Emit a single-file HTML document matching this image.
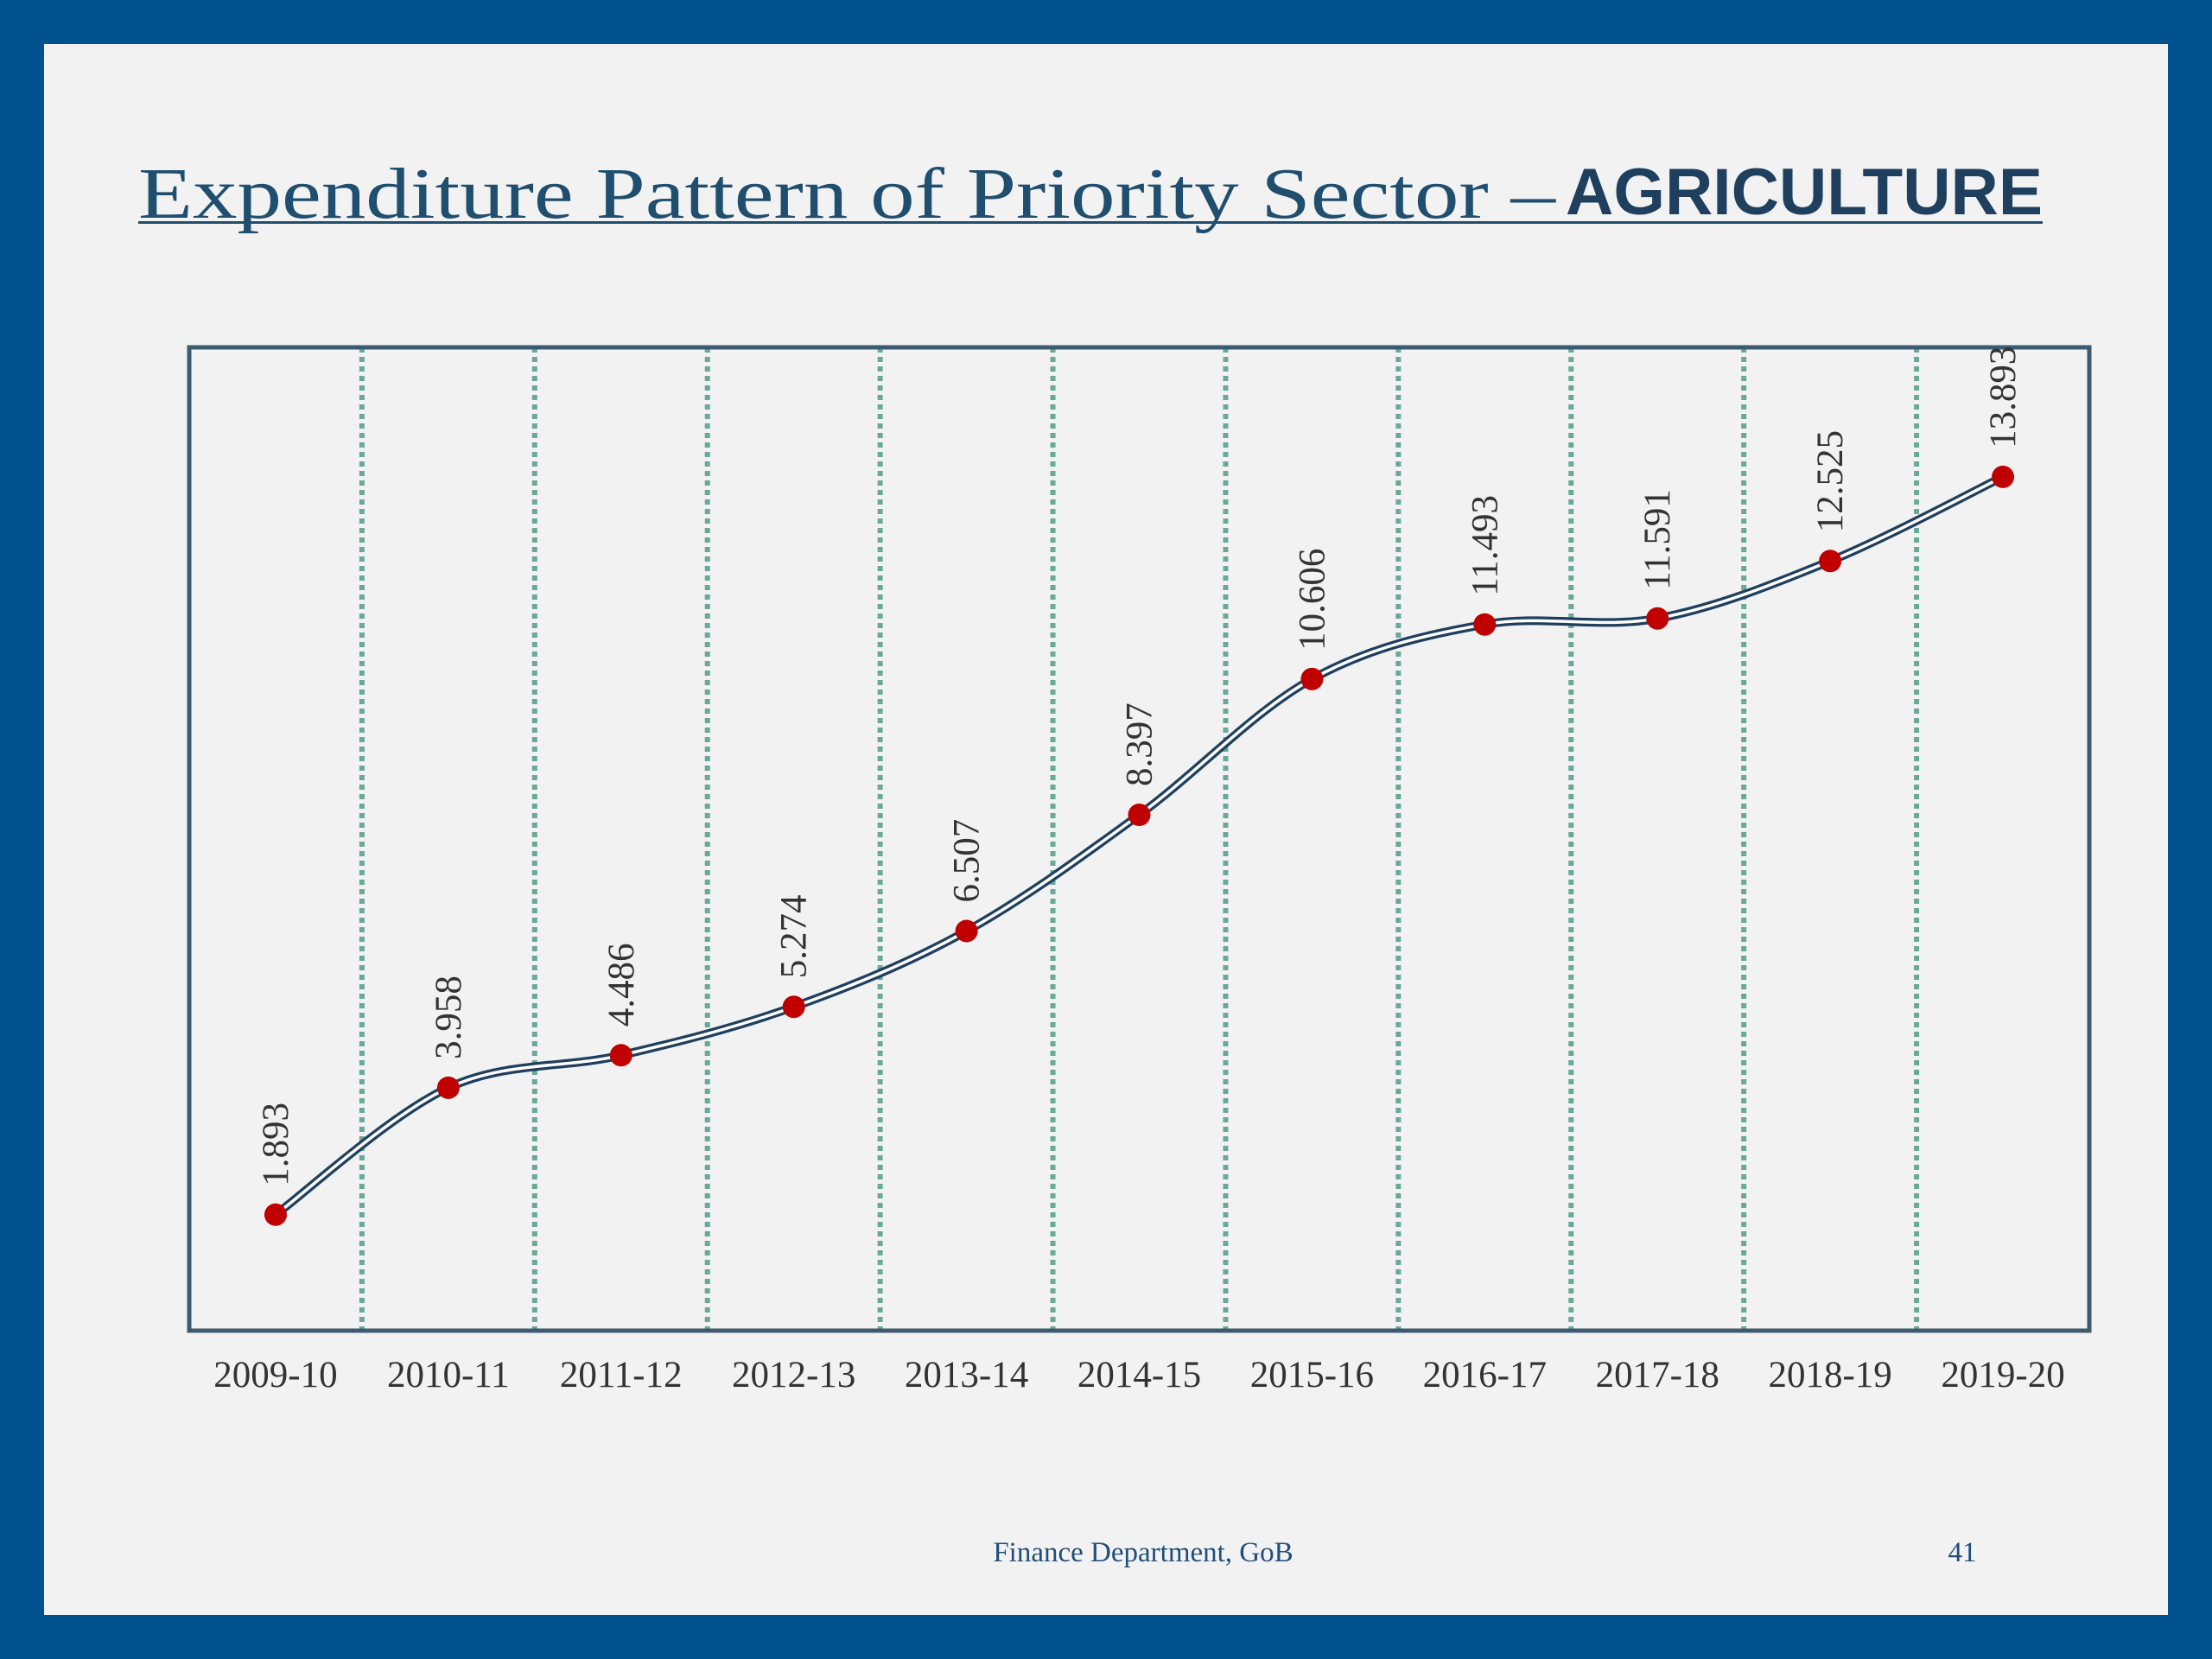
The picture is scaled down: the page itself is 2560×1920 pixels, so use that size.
<!DOCTYPE html>
<html><head><meta charset="utf-8"><style>
html,body{margin:0;padding:0;background:#00528f;}
svg{display:block}
</style></head><body>
<svg id="chart" width="2560" height="1920" viewBox="0 0 2560 1920" xmlns="http://www.w3.org/2000/svg">
<rect x="0" y="0" width="2560" height="1920" fill="#00528f"/>
<rect x="51" y="51" width="2458" height="1818" fill="#f2f2f2"/>
<text x="160" y="252" font-family="Liberation Serif, serif" font-size="84" fill="#1f4e6e" textLength="1640" lengthAdjust="spacingAndGlyphs">Expenditure Pattern of Priority Sector –</text>
<text x="1812" y="248" font-family="Liberation Sans, sans-serif" font-weight="bold" font-size="76" fill="#1f3f5e" textLength="552" lengthAdjust="spacingAndGlyphs">AGRICULTURE</text>
<rect x="160" y="256" width="2204" height="3" fill="#1f4e6e"/>
<g id="grid"></g>
<rect x="219" y="402" width="2199" height="1138" fill="none" stroke="#3d5a6e" stroke-width="5"/>
<g id="series"></g>
<g id="xlabels"></g>
<text x="1323" y="1807" text-anchor="middle" font-family="Liberation Serif, serif" font-size="33" fill="#1f4e79">Finance Department, GoB</text>
<text x="2271" y="1807" text-anchor="middle" font-family="Liberation Serif, serif" font-size="33" fill="#1f4e79">41</text>
</svg>
<script>
const categories = ["2009-10","2010-11","2011-12","2012-13","2013-14","2014-15","2015-16","2016-17","2017-18","2018-19","2019-20"];
const values = [1.893,3.958,4.486,5.274,6.507,8.397,10.606,11.493,11.591,12.525,13.893];
const valueLabels = ["1.893","3.958","4.486","5.274","6.507","8.397","10.606","11.493","11.591","12.525","13.893"];
const yMax = 16;

const NS="http://www.w3.org/2000/svg";
const plotL=219,plotR=2418,plotT=402,plotB=1540.5;
const step=(plotR-plotL)/categories.length;
const xs=i=>plotL+step*(i+0.5);
const ys=v=>plotB-(plotB-plotT)*v/yMax;
function mk(tag,attrs,parent){const e=document.createElementNS(NS,tag);for(const k in attrs)e.setAttribute(k,attrs[k]);parent.appendChild(e);return e;}
const grid=document.getElementById('grid');
for(let i=1;i<categories.length;i++){
  const l=mk('line',{x1:plotL+step*i,x2:plotL+step*i,y1:plotT,y2:plotB,stroke:'#6aa898','stroke-width':6,'stroke-dasharray':'6 5'},grid);
  
  
}
const pts=values.map((v,i)=>[xs(i),ys(v)]);
let d=`M${pts[0][0]},${pts[0][1]}`;
for(let i=0;i<pts.length-1;i++){
  const p0=pts[Math.max(0,i-1)],p1=pts[i],p2=pts[i+1],p3=pts[Math.min(pts.length-1,i+2)];
  const t=1/6;
  d+=` C${p1[0]+(p2[0]-p0[0])*t},${p1[1]+(p2[1]-p0[1])*t} ${p2[0]-(p3[0]-p1[0])*t},${p2[1]-(p3[1]-p1[1])*t} ${p2[0]},${p2[1]}`;
}
const s=document.getElementById('series');
const o=mk('path',{d:d,fill:'none',stroke:'#1f3f5e','stroke-width':10},s);


const inn=mk('path',{d:d,fill:'none',stroke:'#ffffff','stroke-width':3.5},s);


pts.forEach((p,i)=>{
  const c=mk('circle',{cx:p[0],cy:p[1],r:13,fill:'#c00000'},s);
  
  
  const t=mk('text',{x:0,y:0,transform:`translate(${p[0]+14},${p[1]-33}) rotate(-90)`,'font-family':'Liberation Serif, serif','font-size':43,fill:'#333'},s);
  t.textContent=valueLabels[i];
  
  
});
const xl=document.getElementById('xlabels');
categories.forEach((c,i)=>{
  const t=mk('text',{x:xs(i),y:1605,'text-anchor':'middle','font-family':'Liberation Serif, serif','font-size':43,fill:'#333'},xl);
  t.textContent=c;
  
  
});
</script>
</body></html>
